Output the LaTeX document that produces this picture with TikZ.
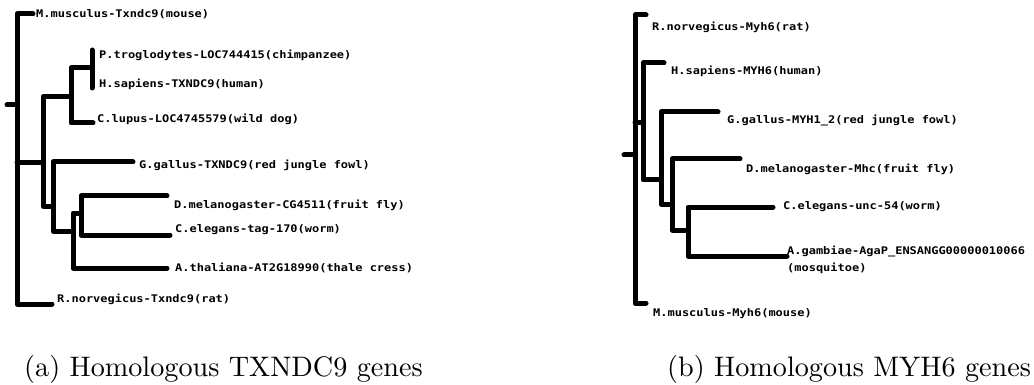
\documentclass[tikz,border=0pt]{standalone}
\usepackage{fontspec}
\newfontfamily\labfont{DejaVu Sans Mono}[FakeStretch=1.14]
\newfontfamily\capfont{lmroman10-regular}[Extension=.otf]
\tikzset{
  br/.style={line width=5pt, line cap=round, line join=round, black},
  lab/.style={anchor=base west, inner sep=0pt, font=\labfont\bfseries\fontsize{10.5}{12}\selectfont},
  captext/.style={anchor=base west, inner sep=0pt, font=\capfont\fontsize{28.2}{34}\selectfont}
}
\begin{document}
\begin{tikzpicture}[x=1pt,y=-1pt]
\useasboundingbox (0,0) rectangle (1034,385);
% ---------- left tree ----------
\coordinate (L0) at (7,105); \coordinate (Lr) at (17,105);
\coordinate (Lt) at (17,14); \coordinate (Lb) at (17,304);
\coordinate (mouseL) at (33,14); \coordinate (ratL) at (52,304);
\coordinate (LAj) at (17,163); \coordinate (LA) at (43,163);
\coordinate (LAt) at (43,97); \coordinate (LAb) at (43,206);
\coordinate (LB) at (71,97); \coordinate (LC) at (53,206);
\coordinate (LBt) at (71,68); \coordinate (LBb) at (71,123);
\coordinate (LF) at (92,68); \coordinate (lupus) at (93,123);
\coordinate (LFt) at (92,50); \coordinate (LFb) at (92,88);
\coordinate (LCt) at (53,162); \coordinate (LCb) at (53,231);
\coordinate (gallusL) at (133,162); \coordinate (LD) at (73,231);
\coordinate (LDt) at (73,213); \coordinate (LDb) at (73,268);
\coordinate (LE) at (81,213); \coordinate (thaliana) at (167,268);
\coordinate (LEt) at (81,196); \coordinate (LEb) at (81,235);
\coordinate (melL) at (167,196); \coordinate (elegL) at (170,235);
\draw[br] (L0) -- (Lr);
\draw[br] (mouseL) -- (Lt) -- (Lb) -- (ratL);
\draw[br] (LAj) -- (LA);
\draw[br] (LB) -- (LAt) -- (LAb) -- (LC);
\draw[br] (LF) -- (LBt) -- (LBb) -- (lupus);
\draw[br] (LFt) -- (LFb);
\draw[br] (gallusL) -- (LCt) -- (LCb) -- (LD);
\draw[br] (LE) -- (LDt) -- (LDb) -- (thaliana);
\draw[br] (melL) -- (LEt) -- (LEb) -- (elegL);
\node[lab] (tMouse) at (36,18) {M.musculus-Txndc9(mouse)};
\node[lab] (tChimp) at (99,59) {P.troglodytes-LOC744415(chimpanzee)};
\node[lab] (tHuman) at (99,88) {H.sapiens-TXNDC9(human)};
\node[lab] (tDog) at (97,123) {C.lupus-LOC4745579(wild dog)};
\node[lab] (tFowl) at (139,168) {G.gallus-TXNDC9(red jungle fowl)};
\node[lab] (tFly) at (174,208) {D.melanogaster-CG4511(fruit fly)};
\node[lab] (tWorm) at (175,233) {C.elegans-tag-170(worm)};
\node[lab] (tCress) at (175,271) {A.thaliana-AT2G18990(thale cress)};
\node[lab] (tRat) at (57,302) {R.norvegicus-Txndc9(rat)};
% ---------- right tree ----------
\coordinate (R0) at (624,155); \coordinate (Rr) at (635,155);
\coordinate (Rt) at (635,15); \coordinate (Rb) at (635,303);
\coordinate (ratR) at (646,15); \coordinate (mouseR) at (646,303);
\coordinate (RGj) at (635,123); \coordinate (RG) at (643,123);
\coordinate (RGt) at (643,63); \coordinate (RGb) at (643,180);
\coordinate (humanR) at (664,63); \coordinate (RH) at (661,180);
\coordinate (RHt) at (661,112); \coordinate (RHb) at (661,204);
\coordinate (gallusR) at (718,112); \coordinate (RI) at (672,204);
\coordinate (RIt) at (672,159); \coordinate (RIb) at (672,230);
\coordinate (melR) at (740,159); \coordinate (RJ) at (688,230);
\coordinate (RJt) at (688,207); \coordinate (RJb) at (688,256);
\coordinate (elegR) at (773,207); \coordinate (gambR) at (787,256);
\draw[br] (R0) -- (Rr);
\draw[br] (ratR) -- (Rt) -- (Rb) -- (mouseR);
\draw[br] (RGj) -- (RG);
\draw[br] (humanR) -- (RGt) -- (RGb) -- (RH);
\draw[br] (gallusR) -- (RHt) -- (RHb) -- (RI);
\draw[br] (melR) -- (RIt) -- (RIb) -- (RJ);
\draw[br] (elegR) -- (RJt) -- (RJb) -- (gambR);
\node[lab] (uRat) at (652,31) {R.norvegicus-Myh6(rat)};
\node[lab] (uHuman) at (671,75) {H.sapiens-MYH6(human)};
\node[lab] (uFowl) at (727,124) {G.gallus-MYH1\_2(red jungle fowl)};
\node[lab] (uFly) at (746,172) {D.melanogaster-Mhc(fruit fly)};
\node[lab] (uWorm) at (783,209) {C.elegans-unc-54(worm)};
\node[lab] (uMosq) at (787,254) {A.gambiae-AgaP\_ENSANGG00000010066};
\node[lab] (uMosq2) at (787,271) {(mosquitoe)};
\node[lab] (uMouse) at (653,316) {M.musculus-Myh6(mouse)};
% ---------- captions ----------
\node[captext] (capA) at (24,376) {(a) Homologous TXNDC9 genes};
\node[captext] (capB) at (667,376) {(b) Homologous MYH6 genes};
\end{tikzpicture}
\end{document}
